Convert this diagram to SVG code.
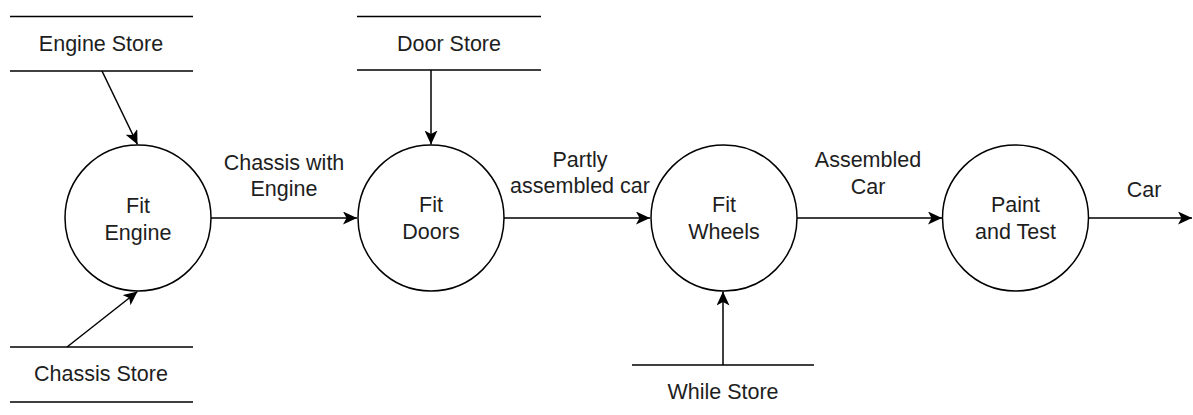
<svg xmlns="http://www.w3.org/2000/svg" width="1193" height="415" viewBox="0 0 1193 415">
<defs>
<style>
.ln{stroke:#000;stroke-width:1.5;fill:none}
.cir{stroke:#000;stroke-width:1.5;fill:#fff}
.t{font-family:"Liberation Sans",Arial,sans-serif;font-size:21.5px;fill:#1e1e1e;text-anchor:middle}
</style>
<marker id="ah" markerUnits="userSpaceOnUse" markerWidth="15" markerHeight="13" viewBox="0 0 15 13" refX="14" refY="6.5" orient="auto">
<path d="M0,0 L14,6.5 L0,13 L3.5,6.5 Z" fill="#000"/>
</marker>
</defs>
<rect width="1193" height="415" fill="#fff"/>
<g id="connectors">
<line class="ln" x1="102" y1="71" x2="137.5" y2="144.5" marker-end="url(#ah)"/>
<line class="ln" x1="67" y1="347" x2="137.5" y2="291.5" marker-end="url(#ah)"/>
<line class="ln" x1="431" y1="70" x2="431" y2="144.5" marker-end="url(#ah)"/>
<line class="ln" x1="723" y1="365" x2="723" y2="291.5" marker-end="url(#ah)"/>
<line class="ln" x1="211" y1="218" x2="357" y2="218" marker-end="url(#ah)"/>
<line class="ln" x1="504" y1="218" x2="650" y2="218" marker-end="url(#ah)"/>
<line class="ln" x1="797" y1="218" x2="942" y2="218" marker-end="url(#ah)"/>
<line class="ln" x1="1089" y1="218" x2="1192" y2="218" marker-end="url(#ah)"/>
<text class="t" x="284" y="170">Chassis with</text>
<text class="t" x="284" y="196">Engine</text>
<text class="t" x="580" y="167">Partly</text>
<text class="t" x="580" y="193">assembled car</text>
<text class="t" x="868" y="167">Assembled</text>
<text class="t" x="868" y="194">Car</text>
<text class="t" x="1144" y="197">Car</text>
</g>
<g id="engine-store">
<line class="ln" x1="10" y1="16.5" x2="193" y2="16.5"/>
<line class="ln" x1="10" y1="71" x2="193" y2="71"/>
<text class="t" x="101" y="51">Engine Store</text>
</g>
<g id="chassis-store">
<line class="ln" x1="10" y1="347" x2="193" y2="347"/>
<line class="ln" x1="10" y1="402" x2="193" y2="402"/>
<text class="t" x="101" y="381">Chassis Store</text>
</g>
<g id="door-store">
<line class="ln" x1="357" y1="16.5" x2="541" y2="16.5"/>
<line class="ln" x1="357" y1="70" x2="541" y2="70"/>
<text class="t" x="449" y="51">Door Store</text>
</g>
<g id="while-store">
<line class="ln" x1="632" y1="365" x2="814" y2="365"/>
<text class="t" x="723" y="399">While Store</text>
</g>
<g id="fit-engine">
<circle class="cir" cx="138" cy="218" r="73"/>
<text class="t" x="138" y="213">Fit</text>
<text class="t" x="138" y="240">Engine</text>
</g>
<g id="fit-doors">
<circle class="cir" cx="431" cy="218" r="73"/>
<text class="t" x="431" y="212">Fit</text>
<text class="t" x="431" y="239">Doors</text>
</g>
<g id="fit-wheels">
<circle class="cir" cx="724" cy="218" r="73"/>
<text class="t" x="724" y="212">Fit</text>
<text class="t" x="724" y="239">Wheels</text>
</g>
<g id="paint-test">
<circle class="cir" cx="1015.5" cy="218" r="73"/>
<text class="t" x="1015.5" y="212">Paint</text>
<text class="t" x="1015.5" y="239">and Test</text>
</g>
</svg>
